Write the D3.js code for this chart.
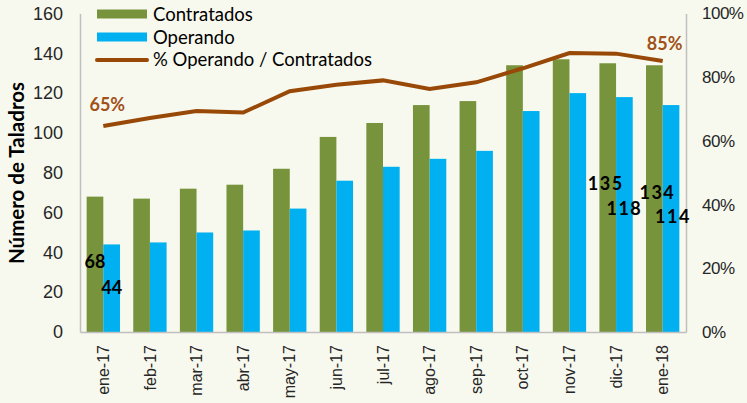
<!DOCTYPE html>
<html>
<head>
<meta charset="utf-8">
<script src="https://cdn.jsdelivr.net/npm/d3@7"></script>
<style>
  body { margin: 0; background: #f8f9ee; }
  svg { display: block; font-family: Lato, "Open Sans", sans-serif; }
  .tick text { fill: #262626; }
</style>
</head>
<body>
<div id="chart"></div>
<script>
// data
var months = ['ene-17', 'feb-17', 'mar-17', 'abr-17', 'may-17', 'jun-17', 'jul-17',
              'ago-17', 'sep-17', 'oct-17', 'nov-17', 'dic-17', 'ene-18'];
var contratados = [68, 67, 72, 74, 82, 98, 105, 114, 116, 134, 137, 135, 134];
var operando    = [44, 45, 50, 51, 62, 76, 83, 87, 91, 111, 120, 118, 114];
var pctOperando = [0.647, 0.672, 0.694, 0.689, 0.756, 0.776, 0.790, 0.763, 0.784, 0.828, 0.876, 0.874, 0.851];
var leftTicks  = [0, 20, 40, 60, 80, 100, 120, 140, 160];
var rightTicks = [0, 0.2, 0.4, 0.6, 0.8, 1.0];
var seriesNames = ['Contratados', 'Operando', '% Operando / Contratados'];

// only these months carry value labels in the original
var labelledMonths = ['ene-17', 'dic-17', 'ene-18'];

var width = 747,
    height = 403;
var margin = {top: 13.5, right: 61, bottom: 71, left: 80};

var green = '#77933c',
    blue = '#00b0f0',
    brown = '#984807';

var svg = d3.select('#chart')
  .append('svg')
    .attr('width', width)
    .attr('height', height);

svg.append('rect')
  .attr('width', width)
  .attr('height', height)
  .attr('fill', '#f8f9ee');

var x = d3.scaleBand()
  .domain(months)
  .range([margin.left, width - margin.right])
  .paddingInner(0.285)
  .paddingOuter(0.1425);

var sub = d3.scaleBand()
  .domain(['c', 'o'])
  .range([0, x.bandwidth()]);

var y = d3.scaleLinear()
  .domain([0, 160])
  .range([height - margin.bottom, margin.top]);

var y2 = d3.scaleLinear()
  .domain([0, 1])
  .range([height - margin.bottom, margin.top]);

// bars
var groups = svg.selectAll('.group')
  .data(months)
  .enter()
  .append('g')
    .attr('class', 'group')
    .attr('transform', function(d) { return 'translate(' + x(d) + ',0)'; });

groups.append('rect')
  .attr('x', sub('c'))
  .attr('width', sub.bandwidth())
  .attr('y', function(d, i) { return y(contratados[i]); })
  .attr('height', function(d, i) { return y(0) - y(contratados[i]); })
  .attr('fill', green);

groups.append('rect')
  .attr('x', sub('o'))
  .attr('width', sub.bandwidth())
  .attr('y', function(d, i) { return y(operando[i]); })
  .attr('height', function(d, i) { return y(0) - y(operando[i]); })
  .attr('fill', blue);

// axes
var axisLeft = svg.append('g')
  .attr('transform', 'translate(' + margin.left + ',0)')
  .call(d3.axisLeft(y).tickValues(leftTicks).tickSize(0).tickPadding(17));

var axisRight = svg.append('g')
  .attr('transform', 'translate(' + (width - margin.right) + ',0)')
  .call(d3.axisRight(y2).tickValues(rightTicks).tickSize(0).tickPadding(16)
        .tickFormat(d3.format('.0%')));

var axisBottom = svg.append('g')
  .attr('transform', 'translate(0,' + y(0) + ')')
  .call(d3.axisBottom(x).tickSize(0).tickPadding(0));

[axisLeft, axisRight, axisBottom].forEach(function(a) {
  a.select('.domain').attr('stroke', '#bfbfbf').attr('stroke-width', 1.5);
  a.selectAll('text').style('font-size', '18px');
});
axisRight.selectAll('text')
  .style('font-size', '17px')
  .attr('letter-spacing', -0.5);

axisBottom.selectAll('text')
  .style('font-size', '16px')
  .attr('transform', 'rotate(-90)')
  .attr('text-anchor', 'end')
  .attr('x', -13)
  .attr('y', 0)
  .attr('dy', '0.35em');

svg.append('text')
  .attr('transform', 'translate(24,173) rotate(-90)')
  .attr('text-anchor', 'middle')
  .style('font-size', '20.5px')
  .style('font-weight', 'bold')
  .attr('fill', '#000')
  .text('Número de Taladros');

// line
var line = d3.line()
  .x(function(d, i) { return x(months[i]) + x.bandwidth() / 2; })
  .y(function(d) { return y2(d); });

svg.append('path')
  .datum(pctOperando)
  .attr('d', line)
  .attr('fill', 'none')
  .attr('stroke', brown)
  .attr('stroke-width', 4);

// line labels at first and last point
var fmtPct = d3.format('.0%');
var lastI = months.length - 1;
svg.append('text')
  .attr('x', x(months[0]) + x.bandwidth() / 2 + 4)
  .attr('y', y2(pctOperando[0]) - 21)
  .attr('dy', '0.35em')
  .attr('text-anchor', 'middle')
  .attr('fill', '#a0521a')
  .style('font-size', '18px')
  .style('font-weight', 'bold')
  .text(fmtPct(pctOperando[0]));

svg.append('text')
  .attr('x', x(months[lastI]) + x.bandwidth() / 2 + 2)
  .attr('y', y2(pctOperando[lastI]) - 17)
  .attr('dy', '0.35em')
  .attr('text-anchor', 'middle')
  .attr('fill', '#a0521a')
  .style('font-size', '18px')
  .style('font-weight', 'bold')
  .text(fmtPct(pctOperando[lastI]));

// value labels, placed inside the bars the way the original has them
var labelOffset = {
  'ene-17': {c: [0, 65], o: [0, 43]},
  'dic-17': {c: [-2, 120], o: [0, 112]},
  'ene-18': {c: [3, 127], o: [2, 112]}
};
var labels = svg.append('g')
  .style('font-size', '18px')
  .style('font-weight', 'bold')
  .attr('fill', '#000');

labelledMonths.forEach(function(m) {
  var i = months.indexOf(m);
  var off = labelOffset[m];
  var cx = x(m) + sub('c') + sub.bandwidth() / 2;
  var ox = x(m) + sub('o') + sub.bandwidth() / 2;
  labels.append('text')
    .attr('x', cx + off.c[0])
    .attr('y', y(contratados[i]) + off.c[1])
    .attr('dy', '0.35em')
    .attr('text-anchor', 'middle')
    .attr('letter-spacing', i === 0 ? 0 : 1.5)
    .text(contratados[i]);
  labels.append('text')
    .attr('x', ox + off.o[0])
    .attr('y', y(operando[i]) + off.o[1])
    .attr('dy', '0.35em')
    .attr('text-anchor', 'middle')
    .attr('letter-spacing', i === 0 ? 0 : 1.5)
    .text(operando[i]);
});

// legend
var legend = svg.append('g')
  .attr('class', 'legend')
  .attr('transform', 'translate(97,0)');

legend.append('rect')
  .attr('x', 0).attr('y', 9.5).attr('width', 50).attr('height', 9)
  .attr('fill', green);
legend.append('rect')
  .attr('x', 0).attr('y', 32.5).attr('width', 50).attr('height', 9)
  .attr('fill', blue);
legend.append('line')
  .attr('x1', 0).attr('x2', 50).attr('y1', 60).attr('y2', 60)
  .attr('stroke', brown).attr('stroke-width', 4).attr('stroke-linecap', 'round');

legend.selectAll('.legend-label')
  .data(seriesNames)
  .enter()
  .append('text')
    .attr('class', 'legend-label')
    .attr('x', 56)
    .attr('y', function(d, i) { return 15 + i * 22.5; })
    .attr('dy', '0.35em')
    .style('font-size', '18.5px')
    .attr('fill', '#000')
    .text(function(d) { return d; });
</script>
</body>
</html>
